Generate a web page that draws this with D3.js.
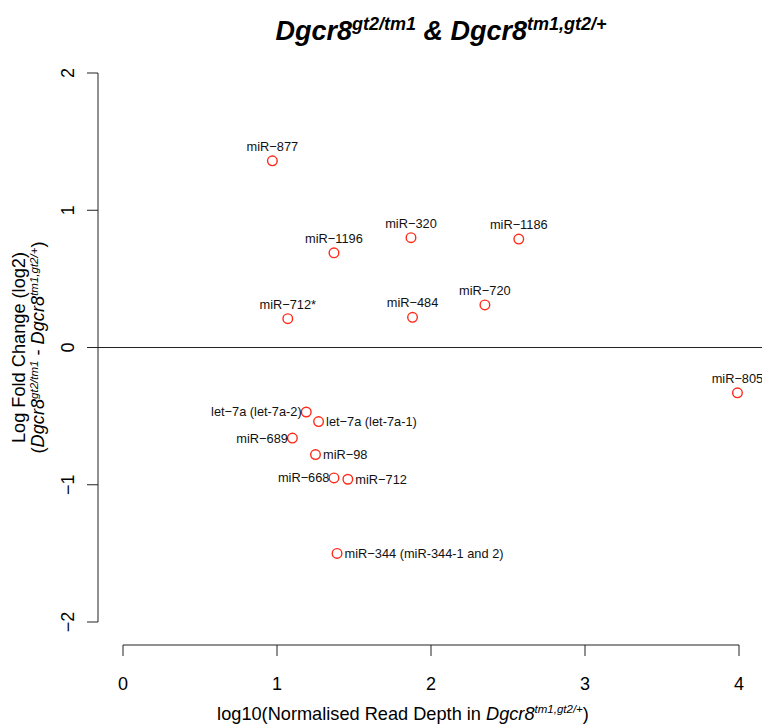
<!DOCTYPE html>
<html>
<head>
<meta charset="utf-8">
<script src="https://cdn.jsdelivr.net/npm/d3@7"></script>
<style>
  html, body { margin: 0; padding: 0; background: #fff; }
  svg { display: block; font-family: "Liberation Sans", Arial, Helvetica, sans-serif; }
</style>
</head>
<body>
<svg id="chart" width="762" height="726"></svg>
<script>
// miRNA names, mean read depth (log10) and log2 fold change
const mirnas = [
  "miR−877", "miR−1196", "miR−320", "miR−1186", "miR−712*", "miR−484",
  "miR−720", "miR−805", "let−7a (let-7a-2)", "let−7a (let-7a-1)",
  "miR−689", "miR−98", "miR−668", "miR−712", "miR−344 (miR-344-1 and 2)"
];
const readDepth = [0.97, 1.37, 1.87, 2.57, 1.07, 1.88, 2.35, 3.99, 1.19, 1.27, 1.10, 1.25, 1.37, 1.46, 1.39];
const logFold   = [1.36, 0.69, 0.80, 0.79, 0.21, 0.22, 0.31, -0.33, -0.47, -0.54, -0.66, -0.78, -0.95, -0.96, -1.50];
// label side, as in R's text(pos=): 2 = left, 3 = above, 4 = right
const labelPos  = [3, 3, 3, 3, 3, 3, 3, 3, 2, 4, 2, 4, 2, 4, 4];

const xTicks = [0, 1, 2, 3, 4];
const yTicks = [-2, -1, 0, 1, 2];

const svg = d3.select("#chart");

const x = d3.scaleLinear().domain([0, 4]).range([123, 739]);
const y = d3.scaleLinear().domain([-2, 2]).range([622, 73]);
const axisX = 645;   // vertical position of the x axis
const axisY = 98;    // horizontal position of the y axis
const tickLen = 11;
const fmt = d => d < 0 ? "−" + Math.abs(d) : String(d);

// x axis
const gx = svg.append("g").attr("transform", `translate(0,${axisX})`);
gx.append("line").attr("x1", x(0)).attr("x2", x(4))
  .attr("stroke", "#222").attr("stroke-width", 1);
gx.selectAll("line.tick").data(xTicks).join("line").attr("class", "tick")
  .attr("x1", d => x(d)).attr("x2", d => x(d)).attr("y1", 0).attr("y2", tickLen)
  .attr("stroke", "#222");
gx.selectAll("text").data(xTicks).join("text")
  .attr("x", d => x(d)).attr("y", 45).attr("text-anchor", "middle")
  .attr("font-size", 18).text(fmt);

// y axis
const gy = svg.append("g").attr("transform", `translate(${axisY},0)`);
gy.append("line").attr("y1", y(-2)).attr("y2", y(2))
  .attr("stroke", "#222");
gy.selectAll("line.tick").data(yTicks).join("line").attr("class", "tick")
  .attr("y1", d => y(d)).attr("y2", d => y(d)).attr("x1", 0).attr("x2", -tickLen)
  .attr("stroke", "#222");
gy.selectAll("text").data(yTicks).join("text")
  .attr("transform", d => `translate(-24,${y(d)}) rotate(-90)`)
  .attr("text-anchor", "middle").attr("font-size", 18).text(fmt);

// zero reference line
svg.append("line").attr("x1", axisY).attr("x2", 762)
  .attr("y1", y(0)).attr("y2", y(0)).attr("stroke", "#222");

// title
const title = svg.append("text").attr("x", 441).attr("y", 40)
  .attr("text-anchor", "middle").attr("font-weight", "bold")
  .attr("font-style", "italic").attr("font-size", 27);
title.append("tspan").text("Dgcr8");
title.append("tspan").attr("font-size", 18).attr("dy", -10).text("gt2/tm1");
title.append("tspan").attr("dy", 10).text(" & Dgcr8");
title.append("tspan").attr("font-size", 18).attr("dy", -10).text("tm1,gt2/+");

// x axis title
const xl = svg.append("text").attr("x", 403).attr("y", 720)
  .attr("text-anchor", "middle").attr("font-size", 18.2);
xl.append("tspan").text("log10(Normalised Read Depth in ");
xl.append("tspan").attr("font-style", "italic").text("Dgcr8");
xl.append("tspan").attr("font-style", "italic").attr("font-size", 11.5).attr("dy", -7).text("tm1,gt2/+");
xl.append("tspan").attr("dy", 7).text(")");

// y axis title (two lines)
const cy = y(0);
svg.append("text").attr("transform", `translate(25,${cy}) rotate(-90)`)
  .attr("text-anchor", "middle").attr("font-size", 18.2)
  .text("Log Fold Change (log2)");
const yl2 = svg.append("text").attr("transform", `translate(44,${cy}) rotate(-90)`)
  .attr("text-anchor", "middle").attr("font-size", 18.2);
yl2.append("tspan").text("(");
yl2.append("tspan").attr("font-style", "italic").text("Dgcr8");
yl2.append("tspan").attr("font-style", "italic").attr("font-size", 11.5).attr("dy", -6).text("gt2/tm1");
yl2.append("tspan").attr("dy", 6).text(" - ");
yl2.append("tspan").attr("font-style", "italic").text("Dgcr8");
yl2.append("tspan").attr("font-style", "italic").attr("font-size", 11.5).attr("dy", -6).text("tm1,gt2/+");
yl2.append("tspan").attr("dy", 6).text(")");

// points
const pts = mirnas.map((name, i) => ({ name, x: readDepth[i], y: logFold[i], pos: labelPos[i] }));

svg.append("g").selectAll("circle").data(pts).join("circle")
  .attr("cx", d => x(d.x)).attr("cy", d => y(d.y)).attr("r", 4.8)
  .attr("fill", "none").attr("stroke", "#ff2a1a").attr("stroke-width", 1.4);

svg.append("g").selectAll("text").data(pts).join("text")
  .attr("font-size", 12.8).attr("fill", "#111")
  .attr("x", d => d.pos === 2 ? x(d.x) - 4.5 : d.pos === 4 ? x(d.x) + 7.5 : x(d.x))
  .attr("y", d => d.pos === 3 ? y(d.y) - 10 : y(d.y))
  .attr("dy", d => d.pos === 3 ? 0 : "0.35em")
  .attr("text-anchor", d => d.pos === 2 ? "end" : d.pos === 4 ? "start" : "middle")
  .text(d => d.name);
</script>
</body>
</html>
